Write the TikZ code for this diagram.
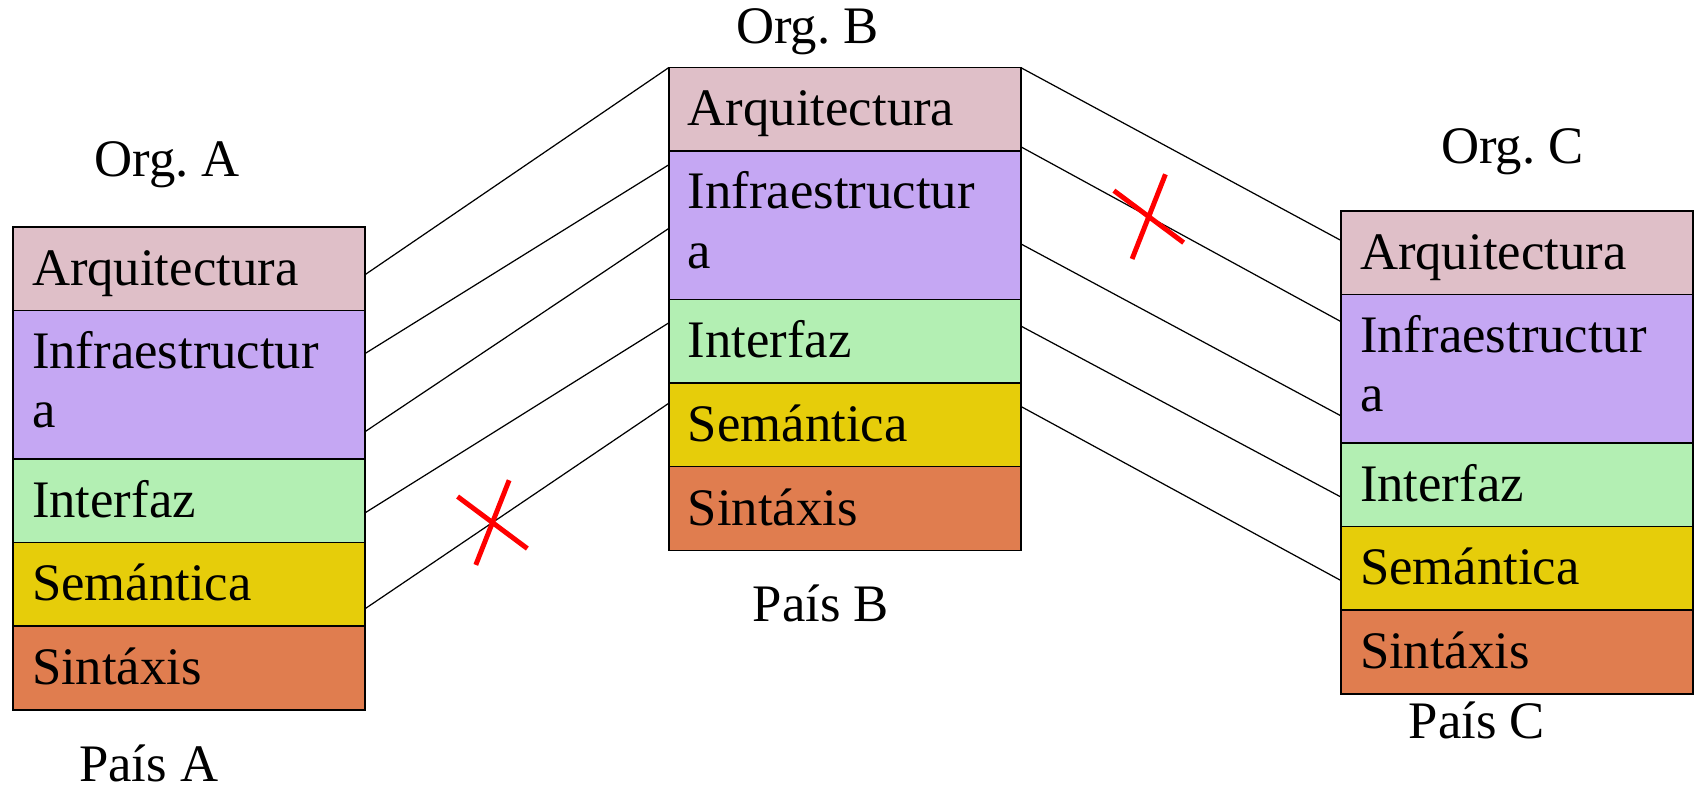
\documentclass[tikz,border=0pt]{standalone}
\usepackage{fontspec}
\setmainfont{Liberation Serif}
\frenchspacing
\usetikzlibrary{positioning}
\definecolor{arqcol}{HTML}{DFBFC8}
\definecolor{infcol}{HTML}{C5A7F3}
\definecolor{intcol}{HTML}{B3EFB3}
\definecolor{semcol}{HTML}{E6CD0A}
\definecolor{sincol}{HTML}{E07D4F}
\begin{document}
\begin{tikzpicture}[
    font=\fontsize{15}{16.9}\selectfont,
    layer/.style={draw, line width=0.3pt, outer sep=0pt, inner xsep=0.19cm, inner ysep=0pt,
      minimum width=3.517cm, text width=3.137cm, minimum height=0.835cm, align=left,
      text height=0.45cm, text depth=0.12cm},
    lbl/.style={anchor=base, inner sep=0pt},
    link/.style={line width=0.35pt},
    frame/.style={line width=0.55pt},
    nope/.style={red, line width=1.4pt}
  ]
  \useasboundingbox (0,0) rectangle (16.97,-7.87);

  % the three stacks
  \foreach \s/\x/\y in {A/0.13/-2.27, B/6.689/-0.675, C/13.41/-2.11}{
    \node[layer, fill=arqcol, anchor=north west] (\s-arq) at (\x,\y) {Arquitectura};
    \node[layer, fill=infcol, below=0pt of \s-arq, minimum height=1.485cm, text depth=0.78cm] (\s-inf) {Infraestructur\\a};
    \node[layer, fill=intcol, below=0pt of \s-inf] (\s-int) {Interfaz};
    \node[layer, fill=semcol, below=0pt of \s-int] (\s-sem) {Semántica};
    \node[layer, fill=sincol, below=0pt of \s-sem, minimum height=0.84cm] (\s-sin) {Sintáxis};
    \draw[frame] (\s-arq.north west) rectangle (\s-sin.south east);
  }

  \node[lbl] (orgA) at (1.672,-1.767) {Org. A};
  \node[lbl] (paisA) at (1.487,-7.81) {País A};
  \node[lbl] (orgB) at (8.075,-0.433) {Org. B};
  \node[lbl] (paisB) at (8.208,-6.217) {País B};
  \node[lbl] (orgC) at (15.125,-1.633) {Org. C};
  \node[lbl] (paisC) at (14.77,-7.383) {País C};

  % A -- B
  \draw[link] (A-arq.-2) -- (B-arq.north west);
  \draw[link] (A-inf.10) -- (B-inf.161);
  \draw[link] (A-inf.-15) -- (B-inf.181);
  \draw[link] (A-int.-4) -- (B-int.174);
  \draw[link] (A-sem.-8) -- coordinate[pos=0.42] (xAB) (B-sem.173);

  % B -- C
  \draw[link] (B-arq.north east) -- (C-arq.176.5);
  \draw[link] (B-arq.-12.5) -- coordinate[pos=0.4] (xBC) (C-inf.165);
  \draw[link] (B-inf.-6.5) -- (C-inf.195);
  \draw[link] (B-int.5.5) -- (C-int.184.5);
  \draw[link] (B-sem.6.5) -- (C-sem.184);

  % broken links
  \draw[nope] (xAB) ++(143.3:0.435) -- ++(-36.7:0.87) (xAB) ++(68.5:0.455) -- ++(248.5:0.91);
  \draw[nope] (xBC) ++(143.3:0.435) -- ++(-36.7:0.87) (xBC) ++(68.5:0.455) -- ++(248.5:0.91);
\end{tikzpicture}
\end{document}
